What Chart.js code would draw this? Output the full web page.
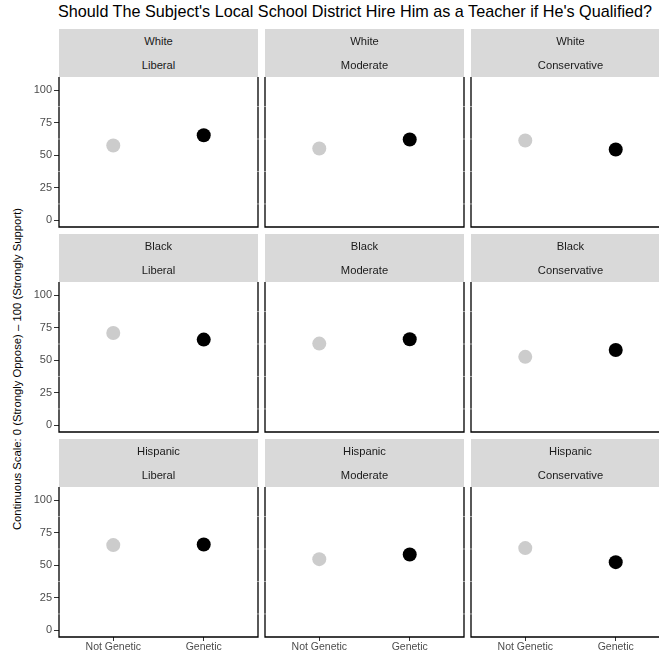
<!DOCTYPE html>
<html>
<head>
<meta charset="utf-8">
<script src="https://cdn.jsdelivr.net/npm/chart.js@4/dist/chart.umd.min.js"></script>
<style>
  html, body { margin: 0; padding: 0; background: #fff; }
  body { width: 659px; height: 654px; overflow: hidden; position: relative;
         font-family: "Liberation Sans", Arial, sans-serif; }
  .title { position: absolute; left: 58px; top: 2px; font-size: 16.2px; color: #000; white-space: nowrap; }
  .ytitle { position: absolute; left: 17px; top: 369px; font-size: 11.3px; color: #000; white-space: nowrap;
            transform: translate(-50%, -50%) rotate(-90deg); }
  .strip { position: absolute; background: #d9d9d9; }
  .strip div { position: absolute; left: 0; right: 0; text-align: center; font-size: 11.2px; color: #1a1a1a;
               line-height: 13px; }
  canvas { position: absolute; }
</style>
</head>
<body>
<div class="title">Should The Subject's Local School District Hire Him as a Teacher if He's Qualified?</div>
<div class="ytitle">Continuous Scale: 0 (Strongly Oppose) – 100 (Strongly Support)</div>
<script>
// Facet rows (race) and columns (ideology)
const races = ['White', 'Black', 'Hispanic'];
const ideologies = ['Liberal', 'Moderate', 'Conservative'];
const conditions = ['Not Genetic', 'Genetic'];
const yTicks = [0, 25, 50, 75, 100];

// Mean support by ideology (Liberal, Moderate, Conservative)
const whiteNotGenetic    = [57.5, 55.2, 61.3];
const whiteGenetic       = [65.4, 62.1, 54.4];
const blackNotGenetic    = [71.0, 62.8, 52.6];
const blackGenetic       = [65.9, 66.2, 57.9];
const hispanicNotGenetic = [65.5, 54.7, 63.2];
const hispanicGenetic    = [66.0, 58.3, 52.4];

const notGeneticByRace = [whiteNotGenetic, blackNotGenetic, hispanicNotGenetic];
const geneticByRace = [whiteGenetic, blackGenetic, hispanicGenetic];
const pointColors = ['#cccccc', '#000000'];

// Grid geometry
const colLeft = [59, 265, 471];
const panelW = 199;
const panelTop = [77, 282, 487];
const panelH = 150;
const stripH = 48;
const axisW = 50;   // room for y tick labels
const axisH = 22;   // room for x tick labels

// Panel frame: left, right and bottom lines, with thin white minor grid lines over it
const framePlugin = {
  id: 'frame',
  beforeDatasetsDraw(chart) {
    const { ctx, chartArea: a, scales } = chart;
    ctx.save();
    ctx.strokeStyle = '#000';
    ctx.lineWidth = 1.3;
    ctx.beginPath();
    ctx.moveTo(a.left, a.top);
    ctx.lineTo(a.left, a.bottom);
    ctx.lineTo(a.right, a.bottom);
    ctx.lineTo(a.right, a.top);
    ctx.stroke();
    ctx.strokeStyle = 'rgba(255,255,255,0.85)';
    ctx.lineWidth = 0.6;
    [12.5, 37.5, 62.5, 87.5].forEach(v => {
      const y = scales.y.getPixelForValue(v);
      ctx.beginPath();
      ctx.moveTo(a.left - 1, y);
      ctx.lineTo(a.right + 1, y);
      ctx.stroke();
    });
    ctx.restore();
  }
};

races.forEach((race, r) => {
  ideologies.forEach((ideo, c) => {
    // strip header
    const strip = document.createElement('div');
    strip.className = 'strip';
    strip.style.left = colLeft[c] + 'px';
    strip.style.top = (panelTop[r] - stripH) + 'px';
    strip.style.width = panelW + 'px';
    strip.style.height = stripH + 'px';
    const l1 = document.createElement('div'); l1.textContent = race; l1.style.top = '6px';
    const l2 = document.createElement('div'); l2.textContent = ideo; l2.style.top = '30px';
    strip.appendChild(l1); strip.appendChild(l2);
    document.body.appendChild(strip);

    const showY = c === 0;
    const showX = r === races.length - 1;

    const canvas = document.createElement('canvas');
    canvas.width = panelW + axisW + 2;
    canvas.height = panelH + axisH;
    canvas.style.left = (colLeft[c] - axisW) + 'px';
    canvas.style.top = panelTop[r] + 'px';
    document.body.appendChild(canvas);

    new Chart(canvas, {
      type: 'scatter',
      data: {
        datasets: [{
          data: conditions.map((cond, i) => ({
            x: i + 1,
            y: i === 0 ? notGeneticByRace[r][c] : geneticByRace[r][c]
          })),
          pointBackgroundColor: pointColors,
          pointBorderColor: pointColors,
          pointBorderWidth: 0,
          pointRadius: 7,
          pointHoverRadius: 7,
          clip: false
        }]
      },
      options: {
        responsive: false,
        animation: false,
        events: [],
        layout: { autoPadding: false, padding: { left: 0, right: 2, top: 0, bottom: 0 } },
        plugins: { legend: { display: false }, tooltip: { enabled: false } },
        scales: {
          x: {
            type: 'linear',
            min: 0.4, max: 2.6,
            afterBuildTicks: s => { s.ticks = conditions.map((_, i) => ({ value: i + 1 })); },
            afterFit: s => { s.height = axisH; s.paddingLeft = 0; s.paddingRight = 0; },
            border: { display: false },
            grid: { display: showX, drawOnChartArea: false, drawTicks: true, tickLength: 4, color: '#333333', lineWidth: 1 },
            ticks: {
              display: showX,
              autoSkip: false, maxRotation: 0, padding: 0,
              color: '#4d4d4d',
              font: { family: 'Liberation Sans', size: 10.5 },
              callback: v => conditions[v - 1]
            }
          },
          y: {
            min: -5.25, max: 110.25,
            afterBuildTicks: s => { s.ticks = yTicks.map(v => ({ value: v })); },
            afterFit: s => { s.width = axisW; s.paddingTop = 0; s.paddingBottom = 0; },
            border: { display: false },
            grid: { display: showY, drawOnChartArea: false, drawTicks: true, tickLength: 5, color: '#333333', lineWidth: 1 },
            ticks: {
              display: showY,
              padding: 2,
              color: '#4d4d4d',
              font: { family: 'Liberation Sans', size: 11 }
            }
          }
        }
      },
      plugins: [framePlugin]
    });
  });
});
</script>
</body>
</html>
